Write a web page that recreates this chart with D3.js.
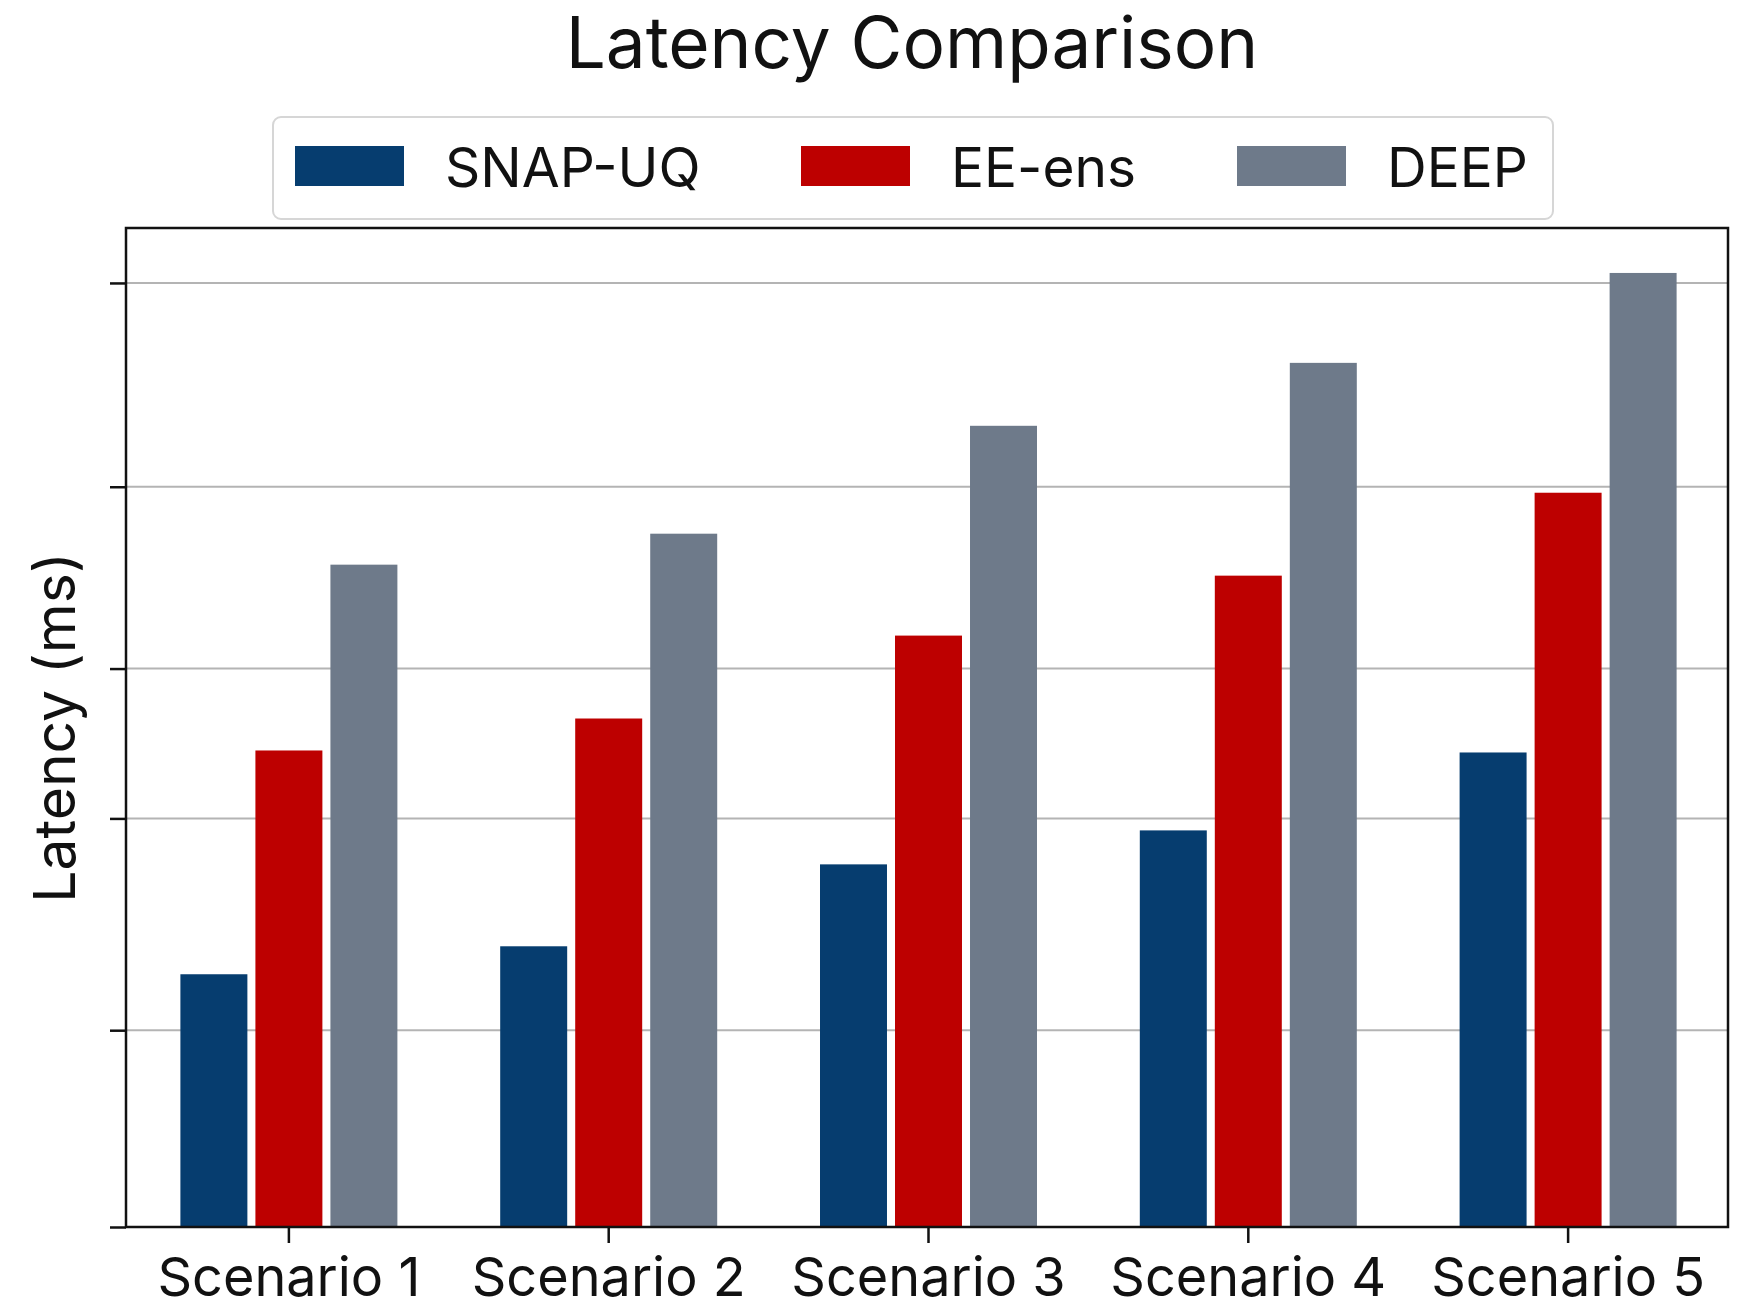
<!DOCTYPE html>
<html>
<head>
<meta charset="utf-8">
<script src="https://cdn.jsdelivr.net/npm/d3@7"></script>
<style>
  body { margin: 0; background: #fff; }
  svg { display: block; }
</style>
</head>
<body>
<div id="chart"></div>
<script>
const scenarios = ["Scenario 1", "Scenario 2", "Scenario 3", "Scenario 4", "Scenario 5"];
const seriesNames = ["SNAP-UQ", "EE-ens", "DEEP"];
const snapUQ = [25.3, 28.1, 36.3, 39.7, 47.5];
const eeEns = [47.7, 50.9, 59.2, 65.2, 73.5];
const deep = [66.3, 69.4, 80.2, 86.5, 95.5];
const gridTicks = [0, 19.7, 40.9, 55.9, 74.1, 94.5];
const colors = ["#063d6f", "#bd0000", "#6e7a8a"];

const W = 1745, H = 1310;
const margin = { top: 228, right: 17, bottom: 83, left: 126 };
const width = W - margin.left - margin.right,
	height = H - margin.top - margin.bottom;
const font = "Inter, 'Noto Sans', sans-serif";

const values = [snapUQ, eeEns, deep];

const svg = d3.select("#chart").append("svg")
	.attr("width", W)
	.attr("height", H);

const g = svg.append("g").attr("transform", `translate(${margin.left},${margin.top})`);

const x = d3.scaleBand().domain(scenarios).range([3, width]).padding(0);
const x1 = d3.scaleBand().domain(seriesNames).range([0, 217]).paddingInner(0.107);
const y = d3.scaleLinear().domain([0, 100]).range([height, 0]);

// gridlines
g.append("g")
	.selectAll("line")
	.data(gridTicks.filter((d) => d > 0))
	.enter()
	.append("line")
	.attr("x1", 0)
	.attr("x2", width)
	.attr("y1", (d) => y(d))
	.attr("y2", (d) => y(d))
	.attr("stroke", "#b4b4b4")
	.attr("stroke-width", 2);

// bars
const groups = g.selectAll(".grp")
	.data(scenarios)
	.enter()
	.append("g")
	.attr("transform", (d) => `translate(${x(d) + x.bandwidth() / 2 - 108.5},0)`);

groups.selectAll("rect")
	.data((d, i) => seriesNames.map((s, k) => ({ s: s, v: values[k][i], k: k })))
	.enter()
	.append("rect")
	.attr("x", (d) => x1(d.s))
	.attr("y", (d) => y(d.v))
	.attr("width", x1.bandwidth())
	.attr("height", (d) => height - y(d.v))
	.attr("fill", (d) => colors[d.k]);

// frame
g.append("rect")
	.attr("x", 0)
	.attr("y", 0)
	.attr("width", width)
	.attr("height", height)
	.attr("fill", "none")
	.attr("stroke", "#111")
	.attr("stroke-width", 2.5);

// y axis (ticks only, no labels)
g.append("g")
	.call(d3.axisLeft(y).tickValues(gridTicks).tickSize(16).tickFormat(""))
	.call((a) => a.select(".domain").remove())
	.call((a) => a.selectAll("line").attr("stroke", "#111").attr("stroke-width", 2.5));

// x axis
g.append("g")
	.attr("transform", `translate(0,${height})`)
	.call(d3.axisBottom(x).tickSize(16).tickPadding(15))
	.call((a) => a.select(".domain").remove())
	.call((a) => a.selectAll("line").attr("stroke", "#111").attr("stroke-width", 2.5))
	.call((a) => a.selectAll("text")
		.attr("fill", "#111")
		.style("font", `54px ${font}`));

// y label
svg.append("text")
	.attr("transform", `translate(75,${margin.top + height / 2}) rotate(-90)`)
	.attr("text-anchor", "middle")
	.attr("fill", "#111")
	.style("font", `57px ${font}`)
	.text("Latency (ms)");

// title
svg.append("text")
	.attr("x", 912)
	.attr("y", 68)
	.attr("text-anchor", "middle")
	.attr("fill", "#111")
	.style("font", `71px ${font}`)
	.text("Latency Comparison");

// legend
const legend = svg.append("g");
legend.append("rect")
	.attr("x", 273)
	.attr("y", 117)
	.attr("width", 1280)
	.attr("height", 102)
	.attr("rx", 8)
	.attr("fill", "#fff")
	.attr("stroke", "#d6d6d6")
	.attr("stroke-width", 2);

const legendX = [295, 801, 1237];
seriesNames.forEach((s, i) => {
	legend.append("rect")
		.attr("x", legendX[i])
		.attr("y", 146)
		.attr("width", 109)
		.attr("height", 40)
		.attr("fill", colors[i]);
	legend.append("text")
		.attr("x", legendX[i] + 150)
		.attr("y", 187)
		.attr("fill", "#111")
		.style("font", `55px ${font}`)
		.text(s);
});
</script>
</body>
</html>
